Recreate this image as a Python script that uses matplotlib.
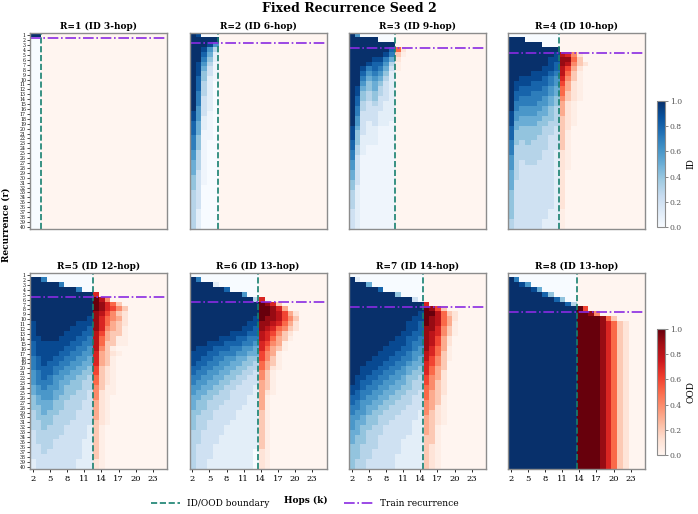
import matplotlib.pyplot as plt
import numpy as np
from matplotlib.lines import Line2D

# hops k = 2..25 (columns), recurrence r = 1..40 (rows)
hops = list(range(2, 26))
recurrences = list(range(1, 41))
train_r = [1, 2, 3, 4, 5, 6, 7, 8]
id_max_hop = [3, 6, 9, 10, 12, 13, 14, 13]

# accuracy per row, one char per hop: '0'..'9' = 0.0..0.9, 'X' = 1.0, '.' = ~0.04 (missing tail = 0)
acc_r1 = [
    "XX", "00", "00", "00", "00", "00", "00", "00", "00", "00",
    "00", "00", "00", "00", "00", "00", "00", "00", "00", "00",
    "00", "00", "00", "00", "00", "00", "00", "00", "00", "00",
    "00", "00", "00", "00", "00", "00", "00", "00", "00", "00",
]
acc_r2 = [
    "X9", "XXXXX", "XXX96", "XX963", "XX851", "XX741", "X963.", "X952.", "X942.", "X841.",
    "X831", "X831", "X731", "X721", "X721", "X621", "962.", "961.", "851.", "851.",
    "85..", "74..", "74.", "74.", "63.", "63.", "53.", "53.", "52.", "42.",
    "42.", "42", "32", "32", "32", "32", "31", "31", "31", "31",
]
acc_r3 = [
    "X6", "XXXXX", "XXXXXXXX", "XXXXXXX851", "XXXXXX972.", "XXXX99751", "XXX98863.", "XX978752.",
    "XX867641", "XX756531", "XX645421", "X9545321", "X9434321", "X8434221", "X8323211", "X7322211",
    "X7222111", "X6222111", "X621211.", "95211...", "94211...", "94111...", "84111...", "831.....",
    "731.....", "72......", "62......", "62......", "52......", "52......", "42......", "41......",
    "31......", "31......", "31......", "31......", "21......", "21......", "21......", "21......",
]
acc_r4 = [
    "000000000", "XXX", "XXXXXX", "XXXXXXXXX", "XXXXXXXX98741", "XXXXXXX999952",
    "XXXXXXX9898421", "XXXXXX9988631", "XXXX99987852.", "XX9999876742.", "X99988876631.",
    "X98888765531.", "X88877765521.", "X87777654421.", "X7777665431.", "X7666654331.",
    "96666554331.", "96555544321.", "95555443321.", "85444433221", "8444443322.",
    "8444433222.", "7434333222.", "7333333222.", "7333332211.", "6333332211.",
    "6323322211.", "6322222211.", "5322222211", "5322222211", "5222222211",
    "5222222211", "4222222211", "4222222211", "4222222211", "4222222211",
    "422222211.", "422222211.", "322222111.", "322222111.",
]
acc_r5 = [
    "00000000000", "XX7", "XXXXX7", "XXXXXXXX7", "XXXXXXXXXXX7",
    "XXXXXXXXXXXX84", "XXXXXXXXXXXX9752", "XXXXXXXXXXXX97642", "XXXXXXXXXXX986421",
    "XXXXXXXXXX9975431", "9XXXXXXX999975321", "9XXXXXX999897432.", "9XXXXX9998886322.",
    "99XXX9998878532..", "899999988778522..", "89999988776842.", "8999988776673 21.".replace(" ", ""),
    "78998877665732.", "7898877665573 2.".replace(" ", ""), "78887766554621.", "67887665544621.",
    "67876655443521.", "67776554433521.", "5676654443342..", "5666554433241..",
    "4566544333241.", "4555443332231.", "4455443332231.", "3454433322231.",
    "3444333322231.", "3344333222221.", "334333222212.", "233333222212.",
    "233332222212.", "233322222112.", "223322222112.", "223222222112.",
    "222222222112.", "122222221111.", "122222221111.",
]
acc_r6 = [
    "000000000000", "X7", "XXXX1", "XXXXXX8", "XXXXXXXXX6",
    "XXXXXXXXXXX37", "XXXXXXXXXXXXX972", "XXXXXXXXXXXXXX973", "XXXXXXXXXXXXXX98631",
    "XXXXXXXXXXX9X998642", "XXXXXXXXXX999987531", "XXXXXXXXX9989875421", "XXXXXXX99988876421",
    "XXXXX999887787532.", "XXX9998887767643.", "X999888776657532.", "999887776655643.",
    "998877665544642.", "988776655443532.", "887766554433531.", "87766554433242.",
    "77665544332242.", "76655443322232.", "66554433222132.", "65544332222131.",
    "5544333222113.", "5443332222113.", "5443322221113.", "4433222211112.",
    "4333222211112.", "4332222111112.", "4332221111112.", "3322221111112.",
    "3322211111112.", "3322211111112.", "3222111111112.", "3222111111101.",
    "3222111111101.", "3221111111101.", "3221111111101.",
]
acc_r7 = [
    "0000000000000", "X1", "XXX5", "XXXXX8", "XXXXXXXX4",
    "XXXXXXXXXXX2", "XXXXXXXXXXXXX7", "XXXXXXXXXXXXXX962", "XXXXXXXXXXXX9XX8521",
    "XXXXXXXXXXX99X98531", "XXXXXXXXXX998X9853.", "XXXXXXXXXX99899742.", "XXXXXXXXX998898742.",
    "XXXXXXXX9988798631", "XXXXXXX99987798631", "XXXXXX99988769753.", "XXXXX999887668752.",
    "XXXX9998877658642.", "XXX99988776557642", "XX999887765547532", "XX998877665447531",
    "X9988776654436431", "X9887766554336421", "99877665544335421", "98776655443325321",
    "8876655443322532.", "8766554433322432.", "7765544333222431.", "7665443332221421.",
    "6654433322221321.", "6554433222211321.", "654433222221132.", "554333222221132.",
    "544332222211122.", "544332222111122.", "443332222111121.", "443322222111121.",
    "443322221111121.", "433222221111121.", "433222221111121.",
]
acc_r8 = [
    "000000000000", "X7", "XX96", "XXXX95", "XXXXXX84",
    "XXXXXXXX84", "XXXXXXXXXX83", "XXXXXXXXXXXXX6", "XXXXXXXXXXXXXX94", "XXXXXXXXXXXXXXXX952",
    "XXXXXXXXXXXXXXXX97521", "XXXXXXXXXXXXXXXX97521", "XXXXXXXXXXXXXXXX97521", "XXXXXXXXXXXXXXXX97521",
    "XXXXXXXXXXXXXXXX97521", "XXXXXXXXXXXXXXXX97521", "XXXXXXXXXXXXXXXX97521", "XXXXXXXXXXXXXXXX97521",
    "XXXXXXXXXXXXXXXX97521", "XXXXXXXXXXXXXXXX97521", "XXXXXXXXXXXXXXXX97521", "XXXXXXXXXXXXXXXX97521",
    "XXXXXXXXXXXXXXXX97521", "XXXXXXXXXXXXXXXX97521", "XXXXXXXXXXXXXXXX97521", "XXXXXXXXXXXXXXXX97521",
    "XXXXXXXXXXXXXXXX97521", "XXXXXXXXXXXXXXXX97521", "XXXXXXXXXXXXXXXX97521", "XXXXXXXXXXXXXXXX97521",
    "XXXXXXXXXXXXXXXX97521", "XXXXXXXXXXXXXXXX97521", "XXXXXXXXXXXXXXXX97521", "XXXXXXXXXXXXXXXX97521",
    "XXXXXXXXXXXXXXXX97521", "XXXXXXXXXXXXXXXX97521", "XXXXXXXXXXXXXXXX97521", "XXXXXXXXXXXXXXXX97521",
    "XXXXXXXXXXXXXXXX97521", "XXXXXXXXXXXXXXXX97521",
]
panels = [acc_r1, acc_r2, acc_r3, acc_r4, acc_r5, acc_r6, acc_r7, acc_r8]

special = {"X": 1.0, ".": 0.04}


def decode(rows):
    out = []
    for row in rows:
        row = row.ljust(len(hops), "0")[:len(hops)]
        out.append([special[c] if c in special else int(c) / 10 for c in row])
    return np.array(out)


plt.rcParams["font.family"] = "DejaVu Serif"
boundary_color = "#17806f"
train_color = "#8a2be2"
spine_color = "#8c8c8c"

fig = plt.figure(figsize=(6.98, 5.14), dpi=100)
lefts = [0.043, 0.2715, 0.5, 0.7278]
bottoms = [0.5539, 0.0875]
hop_arr = np.array(hops)
ext = [hops[0] - 0.5, hops[-1] + 0.5, recurrences[-1] + 0.5, recurrences[0] - 0.5]

for i, (R, B, rows) in enumerate(zip(train_r, id_max_hop, panels)):
    ri, ci = divmod(i, 4)
    ax = fig.add_axes([lefts[ci], bottoms[ri], 0.1963, 0.382])
    acc = decode(rows)
    is_ood = np.broadcast_to(hop_arr > B, acc.shape)
    im_id = ax.imshow(np.ma.masked_where(is_ood, acc), cmap="Blues", vmin=0, vmax=1,
                      aspect="auto", extent=ext, interpolation="nearest")
    im_ood = ax.imshow(np.ma.masked_where(~is_ood, acc), cmap="Reds", vmin=0, vmax=1,
                       aspect="auto", extent=ext, interpolation="nearest")
    ax.axvline(B + 0.5, color=boundary_color, ls="--", lw=1.2)
    ax.axhline(R + 0.5, color=train_color, ls="-.", lw=1.2)
    ax.set_title(f"R={R} (ID {B}-hop)", fontsize=6.5, fontweight="bold", pad=3)
    for s in ax.spines.values():
        s.set_color(spine_color)
        s.set_linewidth(1.0)
    if ci == 0:
        ax.set_yticks(recurrences)
        ax.set_yticklabels([str(r) for r in recurrences], fontsize=3.3)
        ax.tick_params(axis="y", length=2, width=0.5, pad=1)
    else:
        ax.set_yticks([])
    if ri == 1:
        ax.set_xticks(hops[::3])
        ax.set_xticklabels([str(h) for h in hops[::3]], fontsize=6)
        ax.tick_params(axis="x", length=2.5, width=0.6, pad=1.5)
    else:
        ax.set_xticks([])

for cb_bottom, im, lab in [(0.5584, im_id, "ID"), (0.1148, im_ood, "OOD")]:
    cax = fig.add_axes([0.9413, cb_bottom, 0.0115, 0.245])
    cb = fig.colorbar(im, cax=cax, ticks=[0, 0.2, 0.4, 0.6, 0.8, 1.0])
    cb.ax.set_yticklabels(["0.0", "0.2", "0.4", "0.6", "0.8", "1.0"])
    cb.ax.tick_params(labelsize=5.5, labelcolor="#555555", color="#555555", length=2, width=0.5, pad=1.5)
    cb.outline.set_edgecolor(spine_color)
    cb.set_label(lab, fontsize=6.5, labelpad=3)

fig.text(0.5, 0.984, "Fixed Recurrence Seed 2", ha="center", va="center", fontsize=9, fontweight="bold")
fig.text(0.009, 0.562, "Recurrence (r)", rotation=90, ha="center", va="center", fontsize=6.5, fontweight="bold")
fig.text(0.438, 0.027, "Hops (k)", ha="center", va="center", fontsize=6.5, fontweight="bold")

handles = [
    Line2D([0], [0], color=boundary_color, ls="--", lw=1.2, label="ID/OOD boundary"),
    Line2D([0], [0], color=train_color, ls="-.", lw=1.2, label="Train recurrence"),
]
fig.legend(handles=handles, ncol=2, loc="center", bbox_to_anchor=(0.437, 0.021), frameon=False,
           fontsize=6.5, columnspacing=8.3, handlelength=3.2)

fig.savefig("out.png", dpi=100)
